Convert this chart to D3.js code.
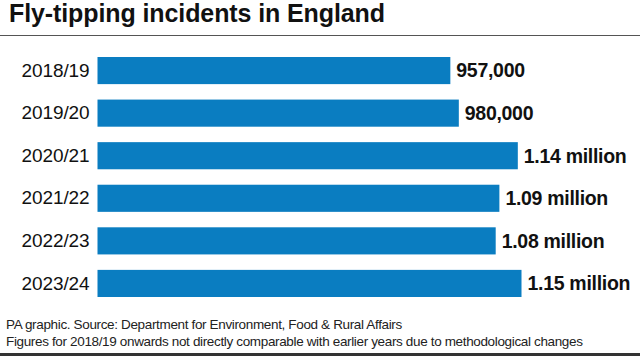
<!DOCTYPE html>
<html>
<head>
<meta charset="utf-8">
<script src="https://cdn.jsdelivr.net/npm/d3@7"></script>
<style>
  html, body { margin: 0; padding: 0; background: #fff; }
  svg { display: block; }
  text { font-family: "Liberation Sans", Arial, sans-serif; }
</style>
</head>
<body>
<svg id="chart" width="640" height="356"></svg>
<script>
const title = "Fly-tipping incidents in England";
const categories = ["2018/19", "2019/20", "2020/21", "2021/22", "2022/23", "2023/24"];
const values = [957000, 980000, 1140000, 1090000, 1080000, 1150000];
const valueLabels = ["957,000", "980,000", "1.14 million", "1.09 million", "1.08 million", "1.15 million"];
const footnotes = [
  "PA graphic. Source: Department for Environment, Food & Rural Affairs",
  "Figures for 2018/19 onwards not directly comparable with earlier years due to methodological changes"
];

const svg = d3.select("#chart");
const W = 640, H = 356;

svg.append("text")
  .attr("x", 9).attr("y", 22)
  .attr("font-size", 25).attr("font-weight", "bold")
  .attr("letter-spacing", -0.1)
  .attr("fill", "#111")
  .text(title);

svg.append("line")
  .attr("x1", 0).attr("x2", W).attr("y1", 35.5).attr("y2", 35.5)
  .attr("stroke", "#555").attr("stroke-width", 1);

const x = d3.scaleLinear().domain([0, 1150000]).range([97.5, 521.5]);
const y = d3.scaleBand().domain(categories).range([57, 297]).paddingInner(0.363).paddingOuter(0);

const data = categories.map((c, i) => ({ c, v: values[i], l: valueLabels[i] }));

svg.append("g").selectAll("rect").data(data).join("rect")
  .attr("x", x(0))
  .attr("y", d => y(d.c))
  .attr("width", d => x(d.v) - x(0))
  .attr("height", y.bandwidth())
  .attr("fill", "#0a7dc1");

const yAxis = d3.axisLeft(y).tickSize(0).tickPadding(8);
const ga = svg.append("g").attr("transform", `translate(${x(0)},0)`).call(yAxis);
ga.select(".domain").remove();
ga.selectAll("text")
  .attr("font-size", 19)
  .attr("font-family", "'Liberation Sans', Arial, sans-serif")
  .attr("fill", "#111")
  .attr("letter-spacing", -0.1);

svg.append("g").selectAll("text").data(data).join("text")
  .attr("x", d => x(d.v) + 6)
  .attr("y", d => y(d.c) + y.bandwidth() / 2)
  .attr("dy", "0.35em")
  .attr("font-size", 19.5).attr("font-weight", "bold")
  .attr("letter-spacing", -0.3)
  .attr("fill", "#111")
  .text(d => d.l);

svg.append("g").selectAll("text").data(footnotes).join("text")
  .attr("x", 6)
  .attr("y", (d, i) => 329 + i * 17)
  .attr("font-size", 13.5)
  .attr("letter-spacing", -0.35)
  .attr("fill", "#222")
  .text(d => d);

svg.append("rect")
  .attr("x", 0).attr("y", 353).attr("width", W).attr("height", 3)
  .attr("fill", "#333");
</script>
</body>
</html>
